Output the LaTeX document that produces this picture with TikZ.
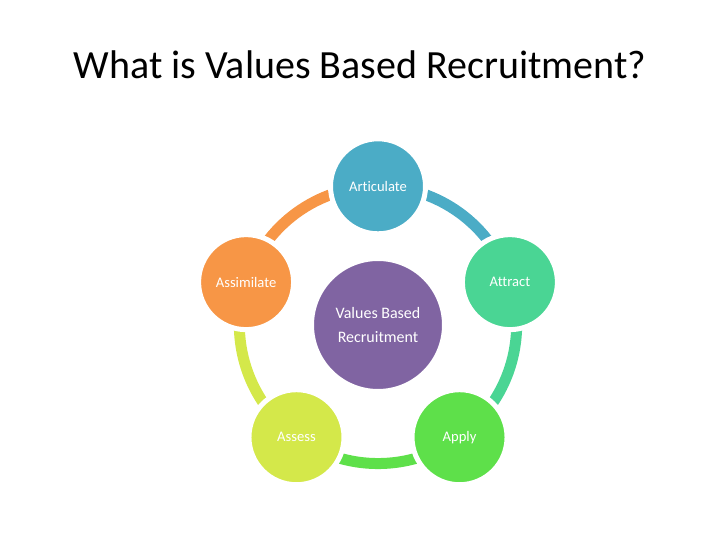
\documentclass[tikz,border=0pt]{standalone}
\usepackage{fontspec}
\setmainfont{Carlito}[Ligatures=NoCommon]
\usetikzlibrary{backgrounds}

\definecolor{articol}{RGB}{75,172,198}
\definecolor{attcol}{RGB}{74,213,148}
\definecolor{appcol}{RGB}{94,224,74}
\definecolor{asscol}{RGB}{212,232,74}
\definecolor{simcol}{RGB}{247,150,70}
\definecolor{hubcol}{RGB}{128,100,162}

\begin{document}
\begin{tikzpicture}[x=1pt,y=1pt,
  stage/.style={circle,draw=white,line width=5pt,minimum size=95pt,inner sep=0pt,
    text=white,font=\fontsize{14.6}{17}\selectfont},
  hub/.style={circle,draw=white,line width=5pt,minimum size=133pt,inner sep=0pt,
    fill=hubcol,text=white,align=center,font=\fontsize{16}{24}\selectfont},
  ring/.style={line width=11pt,bend left=36,looseness=0.94}]
\useasboundingbox (0,0) rectangle (720,540);
\node[font=\fontsize{40}{48}\selectfont,anchor=base] (title) at (360,461) {What is Values Based Recruitment?};
\begin{scope}[shift={(378,215)}]
\pgfmathsetmacro{\R}{138.7}
\node[stage,fill=articol] (art) at (90:\R)   {Articulate};
\node[stage,fill=attcol]  (att) at (18:\R)   {Attract};
\node[stage,fill=appcol]  (app) at (-54:\R)  {Apply};
\node[stage,fill=asscol]  (ass) at (-126:\R) {Assess};
\node[stage,fill=simcol]  (sim) at (162:\R)  {Assimilate};
\node[hub] (vbr) at (0,0) {Values Based\\Recruitment};
% ring pieces, under the circles
\begin{pgfonlayer}{background}
\draw[ring,articol] (art.center) to (att.center);
\draw[ring,attcol]  (att.center) to (app.center);
\draw[ring,appcol]  (app.center) to (ass.center);
\draw[ring,asscol]  (ass.center) to (sim.center);
\draw[ring,simcol]  (sim.center) to (art.center);
\end{pgfonlayer}
\end{scope}
\end{tikzpicture}
\end{document}
